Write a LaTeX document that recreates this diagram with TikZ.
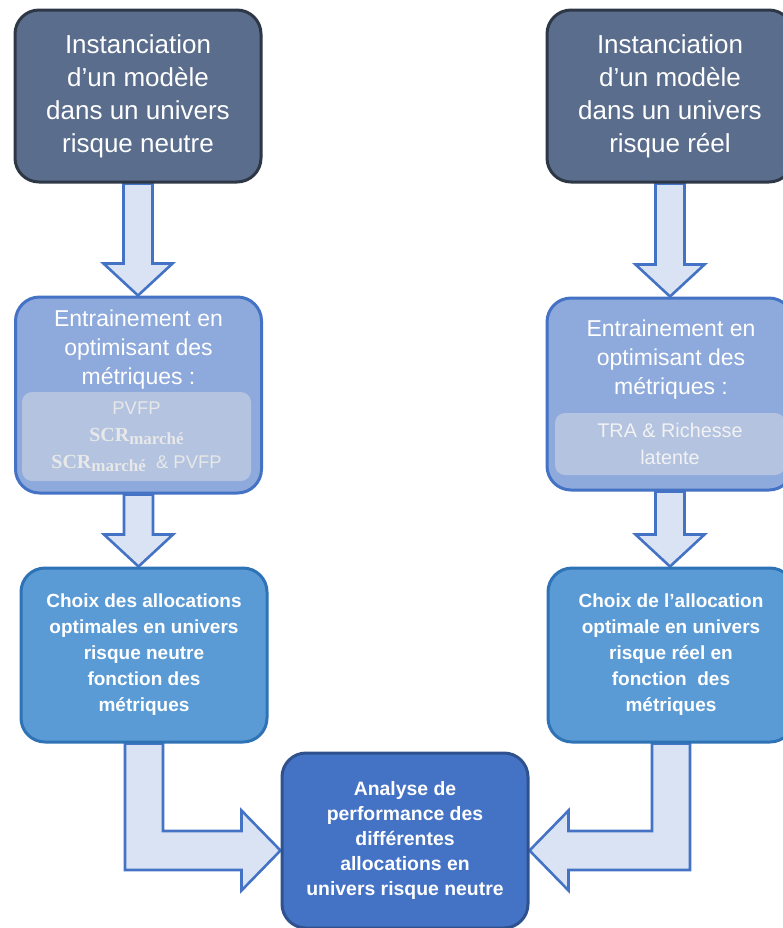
\documentclass[tikz,border=0pt]{standalone}
\usepackage{fontspec}
\setmainfont{Liberation Sans}
\newfontfamily\scrfont{Liberation Serif}
\usetikzlibrary{calc,backgrounds}

\definecolor{slatefill}{HTML}{5A6D8C}
\definecolor{slateborder}{HTML}{2D3746}
\definecolor{trainfill}{HTML}{8EA9DB}
\definecolor{trainborder}{HTML}{4472C4}
\definecolor{metricfill}{HTML}{B3C3E0}
\definecolor{metrictext}{HTML}{E8E8E8}
\definecolor{choicefill}{HTML}{5B9BD5}
\definecolor{choiceborder}{HTML}{2E73B6}
\definecolor{resultfill}{HTML}{4472C4}
\definecolor{resultborder}{HTML}{2F528F}
\definecolor{arrowfill}{HTML}{DAE3F3}
\definecolor{arrowborder}{HTML}{4472C4}

% SCR with its subscript
\newcommand{\scrm}{{\scrfont\bfseries\fontsize{10}{13.5}\selectfont SCR\raisebox{-0.35ex}{\fontsize{8.5}{8.5}\selectfont marché}}}

% straight block arrow, from the bottom of #1 to the top of #2
\newcommand{\blockdown}[2]{%
  \draw[blockarrow] let \p1=(#1.south), \p2=(#2.north) in
    (\x1-7.25pt,\y1) -- (\x1+7.25pt,\y1) -- (\x1+7.25pt,\y2+16pt)
    -- (\x1+17.25pt,\y2+16pt) -- (\x1,\y2) -- (\x1-17.25pt,\y2+16pt)
    -- (\x1-7.25pt,\y2+16pt) -- cycle;}

% bent block arrow, #3 = 1 (to the right) or -1 (to the left)
\newcommand{\blockelbow}[3]{%
  \draw[blockarrow] let \p1=(#1.south), \p2=([yshift=-5pt]#2) in
    (\x1-#3*9.5pt,\y1) -- (\x1+#3*9.5pt,\y1) -- (\x1+#3*9.5pt,\y2+9.75pt)
    -- (\x2-#3*19.5pt,\y2+9.75pt) -- (\x2-#3*19.5pt,\y2+20pt) -- (\x2,\y2)
    -- (\x2-#3*19.5pt,\y2-20pt) -- (\x2-#3*19.5pt,\y2-9.75pt)
    -- (\x1-#3*9.5pt,\y2-9.75pt) -- cycle;}

\begin{document}
\begin{tikzpicture}
    [
    x=0.5pt, y=-0.5pt,
    every node/.style={align=center,text=white,inner sep=0pt},
    topbox/.style={draw=slateborder,fill=slatefill,line width=1.5pt,rounded corners=12pt,
      minimum width=123pt,minimum height=86pt,font=\fontsize{13}{16.5}\selectfont},
    trainbox/.style={draw=trainborder,fill=trainfill,line width=1.5pt,rounded corners=12pt,
      minimum width=123pt},
    trainlabel/.style={font=\fontsize{11.5}{14.5}\selectfont},
    metricbox/.style={fill=metricfill,rounded corners=5pt,text=metrictext},
    choicebox/.style={draw=choiceborder,fill=choicefill,line width=1.5pt,rounded corners=12pt,
      minimum width=123pt,minimum height=87pt,font=\bfseries\fontsize{9.5}{13}\selectfont},
    resultbox/.style={draw=resultborder,fill=resultfill,line width=1.5pt,rounded corners=12pt,
      minimum width=123pt,minimum height=87.5pt,font=\bfseries\fontsize{9.7}{12.5}\selectfont},
    blockarrow/.style={draw=arrowborder,fill=arrowfill,line width=1.3pt},
    ]
    \useasboundingbox (0,0) rectangle (783,928);
    \clip (0,0) rectangle (783,928);

    % left column: risque neutre
    \node[topbox] (instRN) at (138,96) {Instanciation\\d’un modèle\\dans un univers\\risque neutre};
    \node[trainbox,minimum height=98pt] (trainRN) at (138.5,395) {};
    \node[trainlabel] (titRN) at (138.5,350) {Entrainement en\\optimisant des\\métriques :};
    \node[metricbox,minimum width=114.5pt,minimum height=44.5pt,
      font=\fontsize{9.2}{13.5}\selectfont] (metRN) at (136.5,436.5)
      {PVFP\\\scrm\\\scrm\ \ \& PVFP};
    \node[choicebox] (choixRN) at (144,655) {Choix des allocations\\optimales en univers\\risque neutre\\fonction des\\métriques};

    % right column: risque reel
    \node[topbox] (instRR) at (670,96) {Instanciation\\d’un modèle\\dans un univers\\risque réel};
    \node[trainbox,minimum height=96pt] (trainRR) at (670,394) {};
    \node[trainlabel] (titRR) at (671,359.5) {Entrainement en\\optimisant des\\métriques :};
    \node[metricbox,minimum width=115pt,minimum height=31pt,
      font=\fontsize{9.9}{13.5}\selectfont,text=white!95!black] (metRR) at (670,444)
      {TRA \& Richesse\\latente};
    \node[choicebox] (choixRR) at (671,655) {Choix de l’allocation\\optimale en univers\\risque réel en\\fonction~ des\\métriques};

    % common result
    \node[resultbox] (analyse) at (405,840.5) {Analyse de\\performance des\\différentes\\allocations en\\univers risque neutre};

    \begin{scope}[on background layer]
      \blockdown{instRN}{trainRN}
      \blockdown{trainRN}{choixRN}
      \blockdown{instRR}{trainRR}
      \blockdown{trainRR}{choixRR}
      \blockelbow{choixRN}{analyse.west}{1}
      \blockelbow{choixRR}{analyse.east}{-1}
    \end{scope}
  \end{tikzpicture}
\end{document}
